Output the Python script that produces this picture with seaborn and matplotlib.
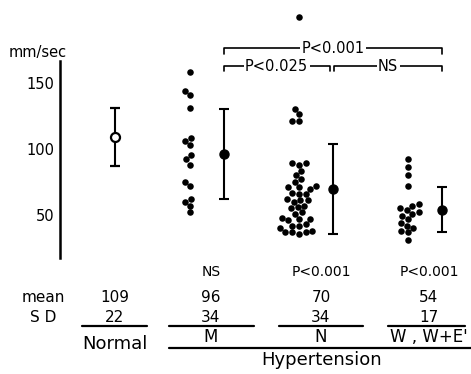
import numpy as np
import pandas as pd
import matplotlib
matplotlib.use('Agg')
import matplotlib.pyplot as plt
from matplotlib.lines import Line2D
import seaborn as sns

# данные
groups = ['Normal', 'M', 'N', 'W']
m_vals = [158, 144, 141, 131, 108, 106, 103, 95, 92, 88, 75, 72, 62, 60, 57, 52]
n_vals = [200, 130, 126, 121, 121,
          89, 89, 88, 83, 80, 77, 75, 72, 71, 71, 70, 67, 66, 66, 62, 61, 61, 60,
          57, 56, 55, 52, 51, 48, 47, 47, 46, 43, 42, 42, 40, 38, 37, 37, 37, 36]
w_vals = [92, 86, 80, 72, 58, 57, 55, 54, 52, 51, 49, 47, 44, 42, 40, 38, 37, 31]
means = [109, 96, 70, 54]
sds = [22, 34, 34, 17]
sig_row = ['', 'NS', 'P<0.001', 'P<0.001']
group_labels = ['Normal', 'M', 'N', "W , W+E'"]
bracket_labels = ['P<0.001', 'P<0.025', 'NS']

df = pd.DataFrame({
    'group': ['M'] * len(m_vals) + ['N'] * len(n_vals) + ['W'] * len(w_vals),
    'speed': m_vals + n_vals + w_vals,
})

sns.set_style('white')
plt.rcParams['font.family'] = ['DejaVu Sans']
plt.rcParams['text.color'] = 'black'
plt.rcParams['ytick.color'] = 'black'
plt.rcParams['ytick.labelcolor'] = 'black'

W, H = 471, 374
fig = plt.figure(figsize=(W / 100, H / 100), dpi=100)
ax = fig.add_axes([60 / W, 116 / H, 411 / W, 258 / H])

sns.swarmplot(data=df, x='group', y='speed', order=groups, color='black',
              size=4.7, ax=ax)

# среднее +- SD
xm = np.arange(len(groups)) + 0.31
ax.errorbar(xm[1:], means[1:], yerr=sds[1:], fmt='o', color='black', ms=6.5,
            capsize=3.5, elinewidth=1.5, capthick=1.5)
ax.errorbar(xm[:1], means[:1], yerr=sds[:1], fmt='o', color='black', mfc='white',
            mec='black', mew=1.6, ms=6.5, capsize=3.5, elinewidth=1.5, capthick=1.5)

ax.set_xlim(-0.1927, 3.578)
ax.set_ylim(17.5, 212.5)
ax.set_xticks([])
ax.set_yticks([50, 100, 150])
ax.set_xlabel('')
ax.set_ylabel('')
for s in ['top', 'right', 'bottom']:
    ax.spines[s].set_visible(False)
ax.spines['left'].set_bounds(17.5, 166.6)
ax.spines['left'].set_linewidth(1.8)
ax.spines['left'].set_color('black')
ax.tick_params(axis='y', direction='out', length=3, width=1.2, labelsize=10.5,
               pad=1, colors='black')
ax.patch.set_alpha(0)

fig.text(38 / W, 1 - 53 / H, 'mm/sec', ha='center', va='center', fontsize=10.5)

# скобки сравнения
def bracket(x1, x2, y, label):
    ax.plot([x1, x1, x2, x2], [y - 4, y, y, y - 4], color='black', lw=1.2,
            clip_on=False)
    ax.text((x1 + x2) / 2, y, label, ha='center', va='center', fontsize=10.5,
            bbox=dict(facecolor='white', edgecolor='none', pad=1.0))

bracket(xm[1], xm[3], 176, bracket_labels[0])
bracket(xm[1], xm[2] - 0.03, 162.5, bracket_labels[1])
bracket(xm[2] + 0.015, xm[3], 162.5, bracket_labels[2])

# таблица под графиком
def fx(px):
    return px / W

def fy(py):
    return 1 - py / H

col_x = [115, 211, 321, 429]
spans = [(82, 147), (169, 254), (279, 363), (388, 465)]

fig.text(fx(43), fy(297), 'mean', ha='center', va='center', fontsize=11)
fig.text(fx(43), fy(317), 'S D', ha='center', va='center', fontsize=11)
for i in range(len(groups)):
    fig.text(fx(col_x[i]), fy(272), sig_row[i], ha='center', va='center', fontsize=10)
    fig.text(fx(col_x[i]), fy(297), str(means[i]), ha='center', va='center', fontsize=11)
    fig.text(fx(col_x[i]), fy(318), str(sds[i]), ha='center', va='center', fontsize=11)
    fig.add_artist(Line2D([fx(spans[i][0]), fx(spans[i][1])], [fy(326), fy(326)],
                          color='black', lw=1.6, transform=fig.transFigure))
    if i == 0:
        fig.text(fx(col_x[i]), fy(344), group_labels[i], ha='center', va='center',
                 fontsize=13)
    else:
        fig.text(fx(col_x[i]), fy(337), group_labels[i], ha='center', va='center',
                 fontsize=12)

fig.add_artist(Line2D([fx(169), fx(471)], [fy(348), fy(348)], color='black', lw=1.6,
                      transform=fig.transFigure))
fig.text(fx(322), fy(360), 'Hypertension', ha='center', va='center', fontsize=13)

fig.savefig('out.png', dpi=100, facecolor='white')
